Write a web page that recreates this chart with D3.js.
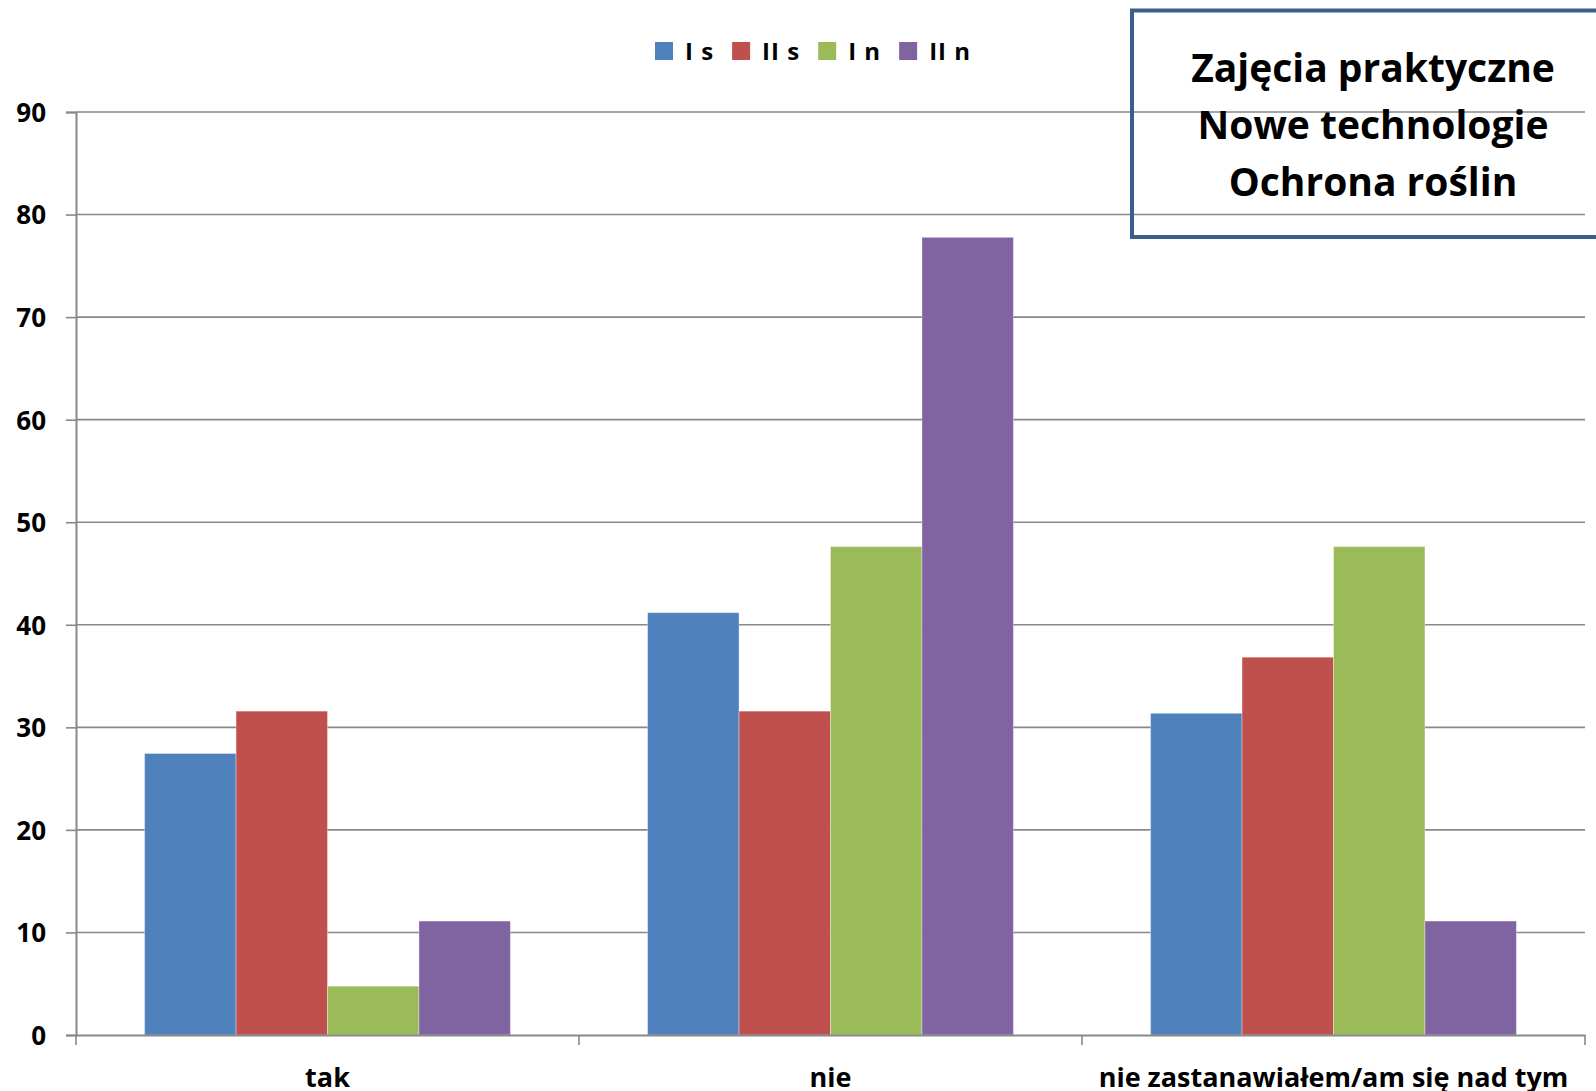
<!DOCTYPE html>
<html>
<head>
<meta charset="utf-8">
<script src="https://cdn.jsdelivr.net/npm/d3@7"></script>
<style>
  body { margin: 0; background: #fff; }
  text { font-family: "Open Sans", Lato, sans-serif; font-weight: bold; fill: #000; }
</style>
</head>
<body>
<div id="chart"></div>
<script>
// data (percent of each group)
const categories = ["tak", "nie", "nie zastanawiałem/am się nad tym"];
const seriesNames = ["I s", "II s", "I n", "II n"];
const valuesIs = [27.45, 41.18, 31.37];
const valuesIIs = [31.58, 31.58, 36.84];
const valuesIn = [4.76, 47.62, 47.62];
const valuesIIn = [11.11, 77.78, 11.11];
const yTicks = [0, 10, 20, 30, 40, 50, 60, 70, 80, 90];
const titleLines = ["Zajęcia praktyczne", "Nowe technologie", "Ochrona roślin"];

const colors = ["#4F81BD", "#C0504D", "#9BBB59", "#8064A2"];
const seriesValues = [valuesIs, valuesIIs, valuesIn, valuesIIn];

barChart();

function barChart() {
    let W = 1596, H = 1091;
    let margin = { top: 112, right: 11, bottom: 56, left: 76 },
        width = W - margin.left - margin.right,
        height = H - margin.top - margin.bottom;

    let svg = d3.select("#chart").append("svg")
        .attr("width", W)
        .attr("height", H);

    let g = svg.append("g")
        .attr("transform", "translate(" + margin.left + "," + margin.top + ")");

    // scales
    let x = d3.scaleBand()
        .domain(categories)
        .range([0, width]);

    // 4 bars + 150% gap in each category
    let bw = x.bandwidth() / 5.5;
    let x1 = d3.scaleBand()
        .domain(seriesNames)
        .range([bw * 0.75, bw * 4.75]);

    let y = d3.scaleLinear()
        .domain([0, 90])
        .range([height, 0]);

    // gridlines
    g.append("g")
        .selectAll("line")
        .data(yTicks.filter(d => d > 0))
        .enter()
        .append("line")
        .attr("x1", 0)
        .attr("x2", width)
        .attr("y1", d => y(d))
        .attr("y2", d => y(d))
        .attr("stroke", "#888")
        .attr("stroke-width", 1.6);

    // bars
    let rows = [];
    categories.forEach((c, ci) => {
        seriesNames.forEach((s, si) => {
            rows.push({ cat: c, series: s, value: seriesValues[si][ci], color: colors[si] });
        });
    });

    g.selectAll(".bar")
        .data(rows)
        .enter()
        .append("rect")
        .attr("class", "bar")
        .attr("x", d => x(d.cat) + x1(d.series))
        .attr("width", x1.bandwidth())
        .attr("y", d => y(d.value))
        .attr("height", d => height - y(d.value))
        .attr("fill", d => d.color)
        .attr("stroke", "rgba(255,255,255,0.35)")
        .attr("stroke-width", 1);

    // y axis
    let yAxis = g.append("g")
        .call(d3.axisLeft(y).tickValues(yTicks).tickSize(10).tickPadding(20));
    yAxis.select(".domain").attr("stroke", "#888").attr("stroke-width", 2);
    yAxis.selectAll(".tick line").attr("stroke", "#888").attr("stroke-width", 1.6);
    yAxis.selectAll("text")
        .style("font-family", "'Open Sans', sans-serif")
        .style("font-weight", "bold")
        .style("font-size", "26px")
        .attr("dy", "0.36em")
        .attr("fill", "#000");

    // x axis
    let xAxis = g.append("g")
        .attr("transform", "translate(0," + height + ")")
        .call(d3.axisBottom(x).tickSize(0));
    xAxis.select(".domain").attr("stroke", "#888").attr("stroke-width", 2);
    xAxis.selectAll("text")
        .style("font-family", "'Open Sans', sans-serif")
        .style("font-weight", "bold")
        .style("font-size", "27px")
        .attr("y", 52)
        .attr("dy", 0)
        .attr("fill", "#000");

    // category boundary ticks
    let bounds = categories.map(c => x(c)).concat([width]);
    g.append("g")
        .selectAll("line")
        .data(bounds)
        .enter()
        .append("line")
        .attr("x1", d => d)
        .attr("x2", d => d)
        .attr("y1", height)
        .attr("y2", height + 10)
        .attr("stroke", "#888")
        .attr("stroke-width", 1.6);

    // legend
    let legend = svg.append("g").attr("transform", "translate(655,42)");
    let lx = 0;
    seriesNames.forEach((s, i) => {
        legend.append("rect")
            .attr("x", lx)
            .attr("y", 0)
            .attr("width", 18)
            .attr("height", 18)
            .attr("fill", colors[i]);
        let t = legend.append("text")
            .attr("x", lx + 30)
            .attr("y", 18)
            .style("font-size", "24px")
            .style("letter-spacing", "1px")
            .text(s);
        lx += 30 + t.node().getComputedTextLength() + 18;
    });

    // title box
    svg.append("rect")
        .attr("x", 1132)
        .attr("y", 10.5)
        .attr("width", 500)
        .attr("height", 226.5)
        .attr("fill", "none")
        .attr("stroke", "#3B5E8C")
        .attr("stroke-width", 4);

    svg.append("g")
        .selectAll("text")
        .data(titleLines)
        .enter()
        .append("text")
        .attr("x", 1373)
        .attr("y", (d, i) => 82 + i * 57)
        .attr("text-anchor", "middle")
        .style("font-size", "39px")
        .text(d => d);
}
</script>
</body>
</html>
